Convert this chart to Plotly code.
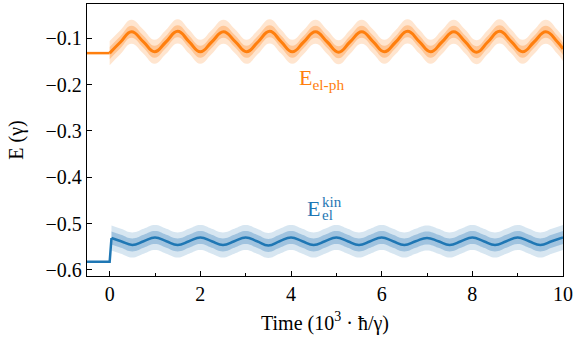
import plotly.graph_objects as go

# time axis in units of 10^3 hbar/gamma
orange_flat_x = [-0.5, 0.0]
orange_flat_y = [-0.132, -0.132]
orange_x = [0.00, 0.24, 0.48, 0.74, 0.99, 1.24, 1.50, 1.75, 2.00, 2.25,
            2.51, 2.77, 3.02, 3.27, 3.53, 3.78, 4.03, 4.28, 4.54, 4.80,
            5.05, 5.30, 5.56, 5.81, 6.06, 6.31, 6.57, 6.83, 7.08, 7.33,
            7.59, 7.84, 8.09, 8.34, 8.60, 8.86, 9.11, 9.36, 9.62, 9.87, 10.00]
orange_y = [-0.132, -0.108, -0.086, -0.107, -0.129, -0.108, -0.085, -0.107,
            -0.129, -0.108, -0.086, -0.107, -0.129, -0.108, -0.085, -0.107,
            -0.129, -0.108, -0.086, -0.108, -0.130, -0.108, -0.086, -0.107,
            -0.129, -0.108, -0.085, -0.107, -0.129, -0.108, -0.086, -0.107,
            -0.130, -0.108, -0.085, -0.107, -0.129, -0.108, -0.086, -0.107, -0.123]

blue_flat_x = [-0.5, 0.0, 0.04]
blue_flat_y = [-0.5825, -0.5825, -0.531]
blue_x = [0.04, 0.25, 0.50, 0.75, 1.00, 1.25, 1.50, 1.75, 2.00, 2.25,
          2.50, 2.75, 3.00, 3.25, 3.50, 3.75, 4.00, 4.25, 4.50, 4.75,
          5.00, 5.25, 5.50, 5.75, 6.00, 6.25, 6.50, 6.75, 7.00, 7.25,
          7.50, 7.75, 8.00, 8.25, 8.50, 8.75, 9.00, 9.25, 9.50, 9.75, 10.00]
blue_y = [-0.531, -0.538, -0.546, -0.538, -0.530, -0.538, -0.546, -0.538,
          -0.530, -0.538, -0.546, -0.538, -0.530, -0.538, -0.547, -0.538,
          -0.530, -0.538, -0.546, -0.538, -0.530, -0.538, -0.546, -0.538,
          -0.530, -0.538, -0.546, -0.538, -0.531, -0.538, -0.546, -0.538,
          -0.530, -0.538, -0.546, -0.538, -0.530, -0.538, -0.546, -0.538, -0.530]

# half widths of the fast noise around the smooth curves
orange_spread_outer = 0.026
orange_spread_inner = 0.013
blue_spread_outer = 0.027
blue_spread_inner = 0.014

x_ticks = [0, 2, 4, 6, 8, 10]
y_ticks = [-0.6, -0.5, -0.4, -0.3, -0.2, -0.1]

ORANGE = '#ff7f0e'
BLUE = '#1f77b4'
FONT = 'Liberation Serif'


def band(x, y, spread, color):
    up = go.Scatter(x=x, y=[v + spread for v in y], mode='lines',
                    line=dict(width=0, shape='spline', smoothing=1.3),
                    hoverinfo='skip', showlegend=False)
    lo = go.Scatter(x=x, y=[v - spread for v in y], mode='lines',
                    line=dict(width=0, shape='spline', smoothing=1.3),
                    fill='tonexty', fillcolor=color, hoverinfo='skip',
                    showlegend=False)
    return [up, lo]


data = []
data += band(orange_x, orange_y, orange_spread_outer, 'rgba(255,127,14,0.2)')
data += band(orange_x, orange_y, orange_spread_inner, 'rgba(255,150,60,0.4)')
data += band(blue_x, blue_y, blue_spread_outer, 'rgba(31,119,180,0.18)')
data += band(blue_x, blue_y, blue_spread_inner, 'rgba(70,140,195,0.38)')

data += [
    go.Scatter(x=orange_flat_x, y=orange_flat_y, mode='lines',
               line=dict(color=ORANGE, width=2.5), showlegend=False),
    go.Scatter(x=orange_x, y=orange_y, mode='lines',
               line=dict(color=ORANGE, width=3, shape='spline', smoothing=1.3),
               showlegend=False),
    go.Scatter(x=blue_flat_x, y=blue_flat_y, mode='lines',
               line=dict(color=BLUE, width=2.5), showlegend=False),
    go.Scatter(x=blue_x, y=blue_y, mode='lines',
               line=dict(color=BLUE, width=2.5, shape='spline', smoothing=1.3),
               showlegend=False),
]

axis_common = dict(showline=True, linecolor='black', linewidth=1.3, mirror=True,
                   ticks='inside', ticklen=5, tickwidth=1, tickcolor='black',
                   showgrid=False, zeroline=False,
                   tickfont=dict(family=FONT, size=20, color='black'))

layout = go.Layout(
    width=581, height=345,
    margin=dict(l=87, r=18, t=4, b=69),
    plot_bgcolor='white', paper_bgcolor='white',
    font=dict(family=FONT, size=20, color='black'),
    xaxis=dict(range=[-0.5, 10], tickvals=x_ticks,
               minor=dict(dtick=1, tick0=0, ticks='inside', ticklen=3,
                          tickcolor='black'),
               title=dict(text='Time (10<sup>3</sup> · ħ/γ)', standoff=11,
                          font=dict(family=FONT, size=20)),
               **axis_common),
    yaxis=dict(range=[-0.613, -0.026], tickvals=y_ticks, tickformat='.1f',
               title=dict(text='E (γ)', standoff=16,
                          font=dict(family=FONT, size=20)),
               **axis_common),
    annotations=[
        dict(x=4.14, y=-0.188, xref='x', yref='y', text='E<sub>el-ph</sub>',
             showarrow=False, xanchor='left', yanchor='middle',
             font=dict(family=FONT, size=22, color=ORANGE)),
        dict(x=4.30, y=-0.468, xref='x', yref='y', text='E',
             showarrow=False, xanchor='left', yanchor='middle',
             font=dict(family=FONT, size=22, color=BLUE)),
        dict(x=4.64, y=-0.453, xref='x', yref='y', text='kin',
             showarrow=False, xanchor='left', yanchor='middle',
             font=dict(family=FONT, size=15, color=BLUE)),
        dict(x=4.64, y=-0.482, xref='x', yref='y', text='el',
             showarrow=False, xanchor='left', yanchor='middle',
             font=dict(family=FONT, size=15, color=BLUE)),
    ],
)

fig = go.Figure(data=data, layout=layout)
fig.write_html('out.html', config={'displayModeBar': False},
               post_script="document.body.style.margin='0';")
